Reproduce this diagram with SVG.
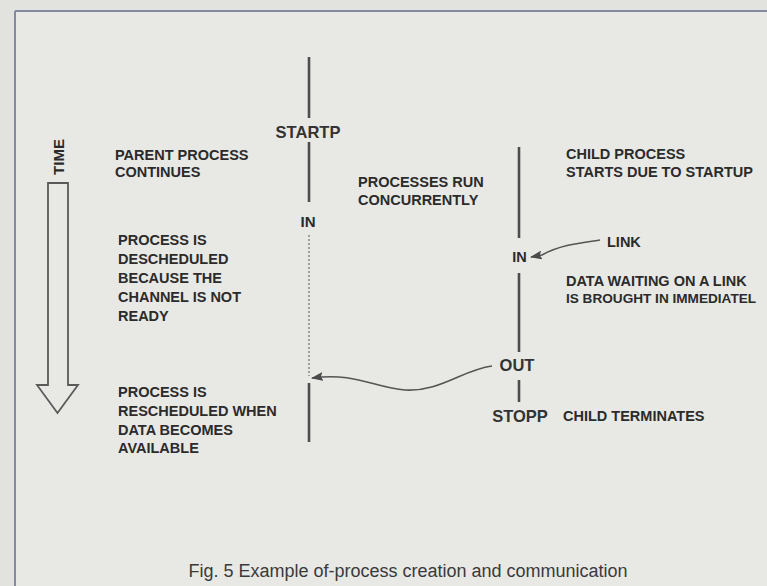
<svg xmlns="http://www.w3.org/2000/svg" width="767" height="586" viewBox="0 0 767 586">
<defs>
<style>
.t{font-family:"Liberation Sans",Arial,sans-serif;font-weight:bold;font-size:14.5px;fill:#2b2b2b}
.k{font-family:"Liberation Sans",Arial,sans-serif;font-weight:bold;font-size:16.5px;fill:#333}
.cap{font-family:"Liberation Sans",Arial,sans-serif;font-size:18px;fill:#3a3a3a}
.ln{stroke:#4d4d4d;stroke-width:2.6;fill:none}
.cv{stroke:#555;stroke-width:1.6;fill:none}
</style>
<marker id="ah" viewBox="0 0 12 9" refX="11" refY="4.5" markerWidth="12" markerHeight="9" markerUnits="userSpaceOnUse" orient="auto">
<path d="M0,0 L12,4.5 L0,9 L2,4.5 Z" fill="#4a4a4a"/>
</marker>
</defs>
<rect x="0" y="0" width="767" height="586" fill="#e2e2df"/>
<rect x="15" y="11" width="760" height="590" fill="#e8e8e5"/>
<g id="frame">
<line x1="15" y1="11" x2="767" y2="11" stroke="#858aa0" stroke-width="2"/>
<line x1="15" y1="11" x2="15" y2="586" stroke="#858aa0" stroke-width="2"/>
</g>
<g id="time-arrow">
<polygon points="48,183 68,183 68,385 78,385 57.5,413 37,385 48,385" fill="none" stroke="#5a5a5a" stroke-width="1.8"/>
<text class="t" transform="translate(63.5,157) rotate(-90)" text-anchor="middle" style="font-size:15px">TIME</text>
</g>
<g id="parent">
<line class="ln" x1="309" y1="57" x2="309" y2="118"/>
<text class="k" x="308" y="138" text-anchor="middle">STARTP</text>
<line class="ln" x1="309" y1="142" x2="309" y2="202"/>
<text class="t" x="308" y="227" text-anchor="middle" style="font-size:15px">IN</text>
<line x1="309" y1="235" x2="309" y2="376" stroke="#8c8c8c" stroke-width="1.6" stroke-dasharray="2,2"/>
<line class="ln" x1="309" y1="383" x2="309" y2="442"/>
</g>
<g id="child">
<line class="ln" x1="519" y1="147" x2="519" y2="238"/>
<text class="t" x="519.5" y="262" text-anchor="middle">IN</text>
<line class="ln" x1="519" y1="273" x2="519" y2="352"/>
<text class="k" x="517" y="371" text-anchor="middle">OUT</text>
<line class="ln" x1="519" y1="380" x2="519" y2="402"/>
<text class="k" x="520" y="422" text-anchor="middle">STOPP</text>
</g>
<g id="labels">
<text class="t" x="115" y="160">PARENT PROCESS</text>
<text class="t" x="115" y="177">CONTINUES</text>
<text class="t" x="358" y="187">PROCESSES RUN</text>
<text class="t" x="358" y="205">CONCURRENTLY</text>
<text class="t" x="566" y="159">CHILD PROCESS</text>
<text class="t" x="566" y="177">STARTS DUE TO STARTUP</text>
<text class="t" x="607" y="247">LINK</text>
<text class="t" x="118" y="245">PROCESS IS</text>
<text class="t" x="118" y="264">DESCHEDULED</text>
<text class="t" x="118" y="283">BECAUSE THE</text>
<text class="t" x="118" y="302">CHANNEL IS NOT</text>
<text class="t" x="118" y="321">READY</text>
<text class="t" x="566" y="286">DATA WAITING ON A LINK</text>
<text class="t" x="566" y="303" style="font-size:13.6px">IS BROUGHT IN IMMEDIATEL</text>
<text class="t" x="118" y="397">PROCESS IS</text>
<text class="t" x="118" y="416">RESCHEDULED WHEN</text>
<text class="t" x="118" y="435">DATA BECOMES</text>
<text class="t" x="118" y="453">AVAILABLE</text>
<text class="t" x="563" y="421">CHILD TERMINATES</text>
</g>
<g id="connectors">
<path class="cv" d="M600,240 C580,243 560,245 542,255 L531,257" marker-end="url(#ah)"/>
<path class="cv" d="M492,366 C462,370 440,392 405,390 C375,388 355,372 312,378" marker-end="url(#ah)"/>
</g>
<text class="cap" x="408" y="577" text-anchor="middle">Fig. 5 Example of-process creation and communication</text>
</svg>
